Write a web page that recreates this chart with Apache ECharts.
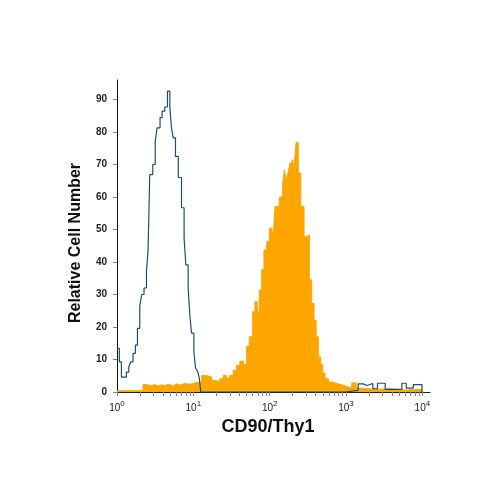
<!DOCTYPE html>
<html>
<head>
<meta charset="utf-8">
<script src="https://cdn.jsdelivr.net/npm/echarts@6/dist/echarts.min.js"></script>
<style>html,body{margin:0;padding:0;background:#fff}#c{width:500px;height:500px}</style>
</head>
<body>
<div id="c"></div>
<script>
// Fluorescence intensity positions in decades (log10 of CD90/Thy1 intensity), bin starts
var blueDecades = [0.000,0.031,0.058,0.123,0.154,0.180,0.210,0.241,0.268,0.298,0.324,0.354,0.386,0.407,0.429,0.469,0.501,0.525,0.564,0.591,0.626,0.661,0.692,0.714,0.735,0.766,0.803,0.845,0.879,0.902,0.932,0.954,0.976,1.007,1.029,1.055,1.079,1.098,2.988,3.159,3.228,3.273,3.352,3.412,3.513,3.732,3.789,3.881,3.995];
var blueCounts  = [13.4,9.3,4.6,6.1,7.7,9.3,11.9,14.4,19.6,26.5,30,32,37,43.7,66.9,70,77.2,81.3,84.4,86.4,87.7,92.6,87.7,81.3,78.2,72.5,66,56.7,47.4,39.1,32,23.7,18.1,12.3,7.3,6.4,4.2,0,0.5,2.5,2.0,2.6,1.0,2.7,0.8,2.7,1.2,2.3,0];

var orangeDecades = [0.000,0.341,0.386,0.451,0.486,0.538,0.583,0.626,0.669,0.735,0.780,0.823,0.888,0.954,1.020,1.108,1.173,1.239,1.282,1.348,1.391,1.436,1.479,1.522,1.567,1.610,1.654,1.698,1.732,1.777,1.807,1.837,1.864,1.895,1.925,1.961,1.995,2.026,2.047,2.070,2.126,2.170,2.192,2.214,2.240,2.266,2.293,2.319,2.345,2.375,2.407,2.450,2.486,2.520,2.551,2.581,2.608,2.638,2.669,2.696,2.726,2.769,2.814,2.879,2.966,3.031,3.076,3.133,3.185,3.382,3.579,3.776,3.995];
var orangeCounts  = [0.4,2.3,1.9,2.3,1.9,2.2,1.9,2.4,1.9,2.5,2.1,2.6,2.4,2.8,3.0,5.1,4.6,3.6,3.1,4.1,5.1,4.3,5.1,6.7,8.2,9.5,8.5,14,17,24.7,27.8,24.7,31.4,37.6,43.7,46.3,50.4,50,47.8,57.1,60,63.8,68.4,65.3,67.4,70.5,71.5,69.4,76.7,67.4,57.1,47.8,48.3,34.5,27.3,22.1,17,10.8,8.5,5.7,4.1,3.1,2.6,2.1,1.5,1.2,2.8,1.2,0.8,1.0,0.6,0.8,0.5];

// Axis ticks / labels
var xLabelDecades = [0, 1, 2, 3, 4];
var yTickValues = [0, 10, 20, 30, 40, 50, 60, 70, 80, 90];
var xTickDecades = [];
for (var d = 0; d <= 4; d++) {
  for (var m = 1; m <= 9; m++) {
    var v = d + Math.log10(m);
    if (v <= 4.1) xTickDecades.push(v);
  }
}

function zip(a, b) { return a.map(function (x, i) { return [x, b[i]]; }); }

var chart = echarts.init(document.getElementById('c'), null, {renderer: 'canvas'});
var FONT = 'Liberation Sans';
chart.setOption({
  animation: false,
  backgroundColor: '#ffffff',
  grid: {left: 117, top: 80, right: 70, bottom: 108, containLabel: false, outerBoundsMode: 'none'},
  xAxis: {
    type: 'value', min: 0, max: 4.1,
    name: 'CD90/Thy1', nameLocation: 'middle', nameGap: 25,
    nameTextStyle: {fontFamily: FONT, fontWeight: 'bold', fontSize: 18, color: '#111', padding: [0, 11, 0, 0]},
    axisLine: {show: true, lineStyle: {color: '#222', width: 1}},
    axisTick: {show: true, customValues: xTickDecades, length: 4, inside: false, lineStyle: {color: '#888'}},
    axisLabel: {
      customValues: xLabelDecades, margin: 8,
      formatter: function (v) { return '{b|10}{s|' + Math.round(v) + '}'; },
      rich: {
        b: {fontFamily: FONT, fontSize: 10, color: '#222', lineHeight: 13, verticalAlign: 'bottom'},
        s: {fontFamily: FONT, fontSize: 8, color: '#222', lineHeight: 13, verticalAlign: 'top'}
      }
    },
    splitLine: {show: false}
  },
  yAxis: {
    type: 'value', min: 0, max: 96,
    name: 'Relative Cell Number', nameLocation: 'middle', nameGap: 33,
    nameTextStyle: {fontFamily: FONT, fontWeight: 'bold', fontSize: 16, color: '#111', padding: [0, 14, 0, 0]},
    axisLine: {show: true, lineStyle: {color: '#111', width: 1}},
    axisTick: {show: true, customValues: yTickValues, length: 4, lineStyle: {color: '#888'}},
    axisLabel: {customValues: yTickValues, margin: 10, fontFamily: FONT, fontWeight: 'bold', fontSize: 10, color: '#222'},
    splitLine: {show: false}
  },
  series: [
    {
      type: 'line', step: 'end', symbol: 'none', silent: true,
      data: zip(orangeDecades, orangeCounts),
      lineStyle: {color: '#FFA500', width: 1},
      areaStyle: {color: '#FFA500', opacity: 1},
      z: 2
    },
    {
      type: 'line', step: 'end', symbol: 'none', silent: true,
      data: zip(blueDecades, blueCounts),
      lineStyle: {color: '#1b4f72', width: 1.2},
      z: 3
    }
  ]
});
</script>
</body>
</html>
